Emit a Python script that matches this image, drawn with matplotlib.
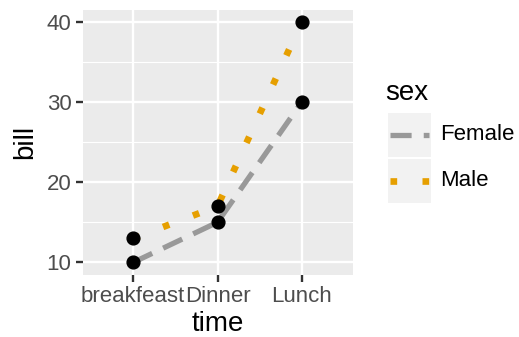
import matplotlib
matplotlib.use("Agg")
import matplotlib.pyplot as plt
from matplotlib.patches import Rectangle

# data
times = ["breakfeast", "Dinner", "Lunch"]
female_bill = [10, 15, 30]
male_bill = [13, 17, 40]
sexes = ["Female", "Male"]
sex_colors = ["#999999", "#E69F00"]
sex_widths = [3.8, 4.8]
sex_dashes = [(4, 2.3), (1, 3.8)]

W, H = 519, 337
plt.rcParams['font.family'] = ['Liberation Sans', 'DejaVu Sans']

fig = plt.figure(figsize=(W / 100, H / 100), dpi=100)
fig.patch.set_facecolor("white")


def px_axes(x0, y0, x1, y1):
    # axes from pixel box (top-left origin)
    return fig.add_axes([x0 / W, 1 - y1 / H, (x1 - x0) / W, (y1 - y0) / H])


ax = px_axes(82.5, 9.5, 352.5, 274.5)
ax.set_facecolor("#EBEBEB")
for s in ax.spines.values():
    s.set_visible(False)

x = list(range(len(times)))
for vals, col, lw, dash in zip([female_bill, male_bill], sex_colors, sex_widths, sex_dashes):
    ax.plot(x, vals, color=col, lw=lw, dashes=dash, dash_capstyle="butt", zorder=2)
for vals in [female_bill, male_bill]:
    ax.plot(x, vals, "o", color="black", ms=9.2, zorder=3)

ax.set_xlim(-0.6, 2.6)
ax.set_ylim(8.5, 41.5)
ax.set_xticks(x)
ax.set_xticklabels(times)
ax.set_yticks([10, 20, 30, 40])
ax.set_yticks([15, 25, 35], minor=True)
ax.grid(True, which="major", color="white", lw=1.7)
ax.grid(True, which="minor", axis="y", color="white", lw=0.8)
ax.set_axisbelow(True)
ax.tick_params(which="major", colors="#333333", length=5, width=1.7,
               labelsize=16, labelcolor="#4D4D4D", pad=3)
ax.tick_params(which="minor", length=0)
ax.set_xlabel("time", fontsize=20, labelpad=3)
ax.set_ylabel("bill", fontsize=20, labelpad=6)

# legend
fig.text(385 / W, 1 - 93 / H, "sex", fontsize=20, va="center", ha="left")
key_boxes = [(388, 113, 431, 157), (388, 159, 431, 203)]
for (x0, y0, x1, y1), lab, col, lw, dash in zip(key_boxes, sexes, sex_colors, sex_widths, sex_dashes):
    kax = px_axes(x0, y0, x1, y1)
    kax.set_xlim(0, 1)
    kax.set_ylim(0, 1)
    kax.axis("off")
    kax.add_patch(Rectangle((0, 0), 1, 1, color="#F2F2F2", zorder=0))
    kax.plot([0.05, 0.95], [0.5, 0.5], color=col, lw=lw, dashes=dash,
             dash_capstyle="butt")
    fig.text(440 / W, 1 - (y0 + y1) / 2 / H, lab, fontsize=16, va="center", ha="left")

fig.savefig("out.png", dpi=100)
